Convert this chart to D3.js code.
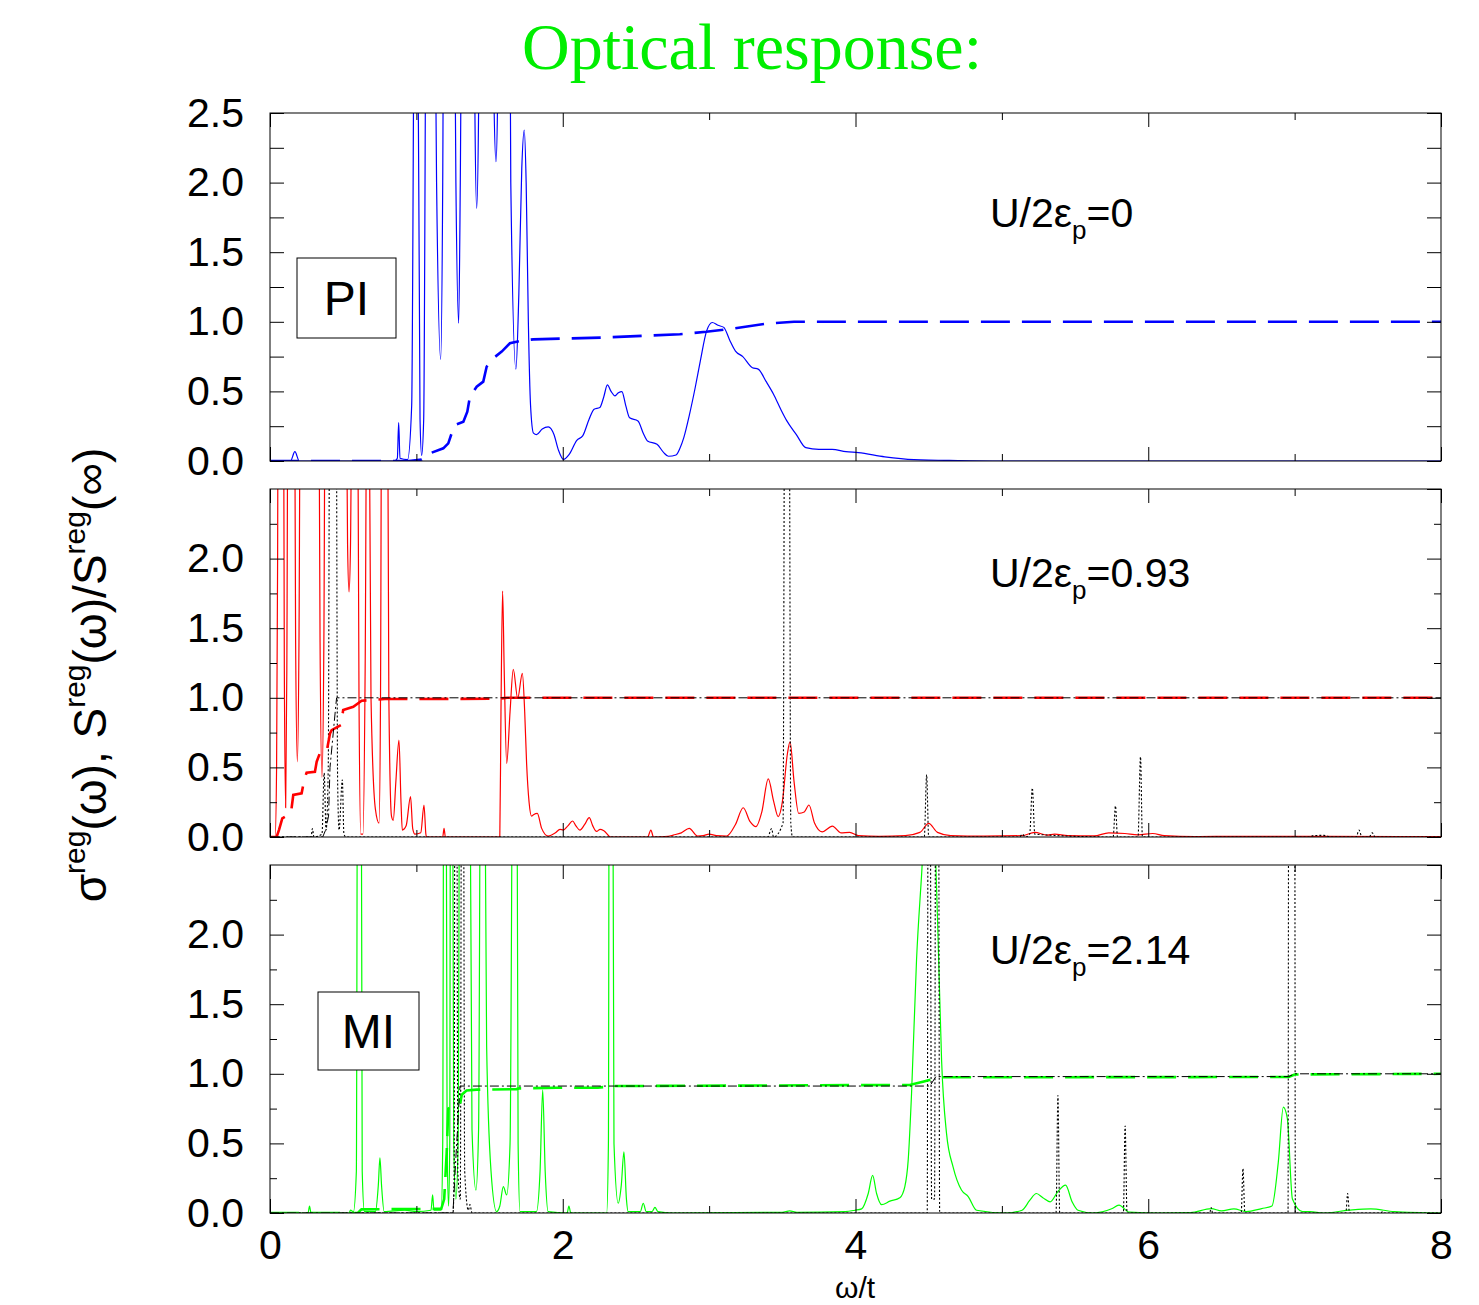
<!DOCTYPE html>
<html>
<head>
<meta charset="utf-8">
<script src="https://cdn.jsdelivr.net/npm/d3@7"></script>
<style>
  body{margin:0;background:#fff}
  text{font-family:"Liberation Sans",Arial,sans-serif}
</style>
</head>
<body>
<svg id="chart" width="1479" height="1305"></svg>
<script>
// ---- data, read off the figure : [omega/t, value] ----
// (values above 2.5 are clipped peaks, estimated)
let piSigma = [[0,0],[0.14,0],[0.17,0.067],[0.2,0],[0.85,0],[0.87,0.02],[0.879,0.275],[0.888,0.02],[0.94,0.01],
  [0.968,0.4],[0.99,4],[1.005,4],[1.025,0.3],[1.036,0.04],[1.05,0.3],[1.07,4],[1.12,4],[1.138,2.0],[1.166,0.73],[1.18,2.0],[1.189,4],
  [1.255,4],[1.27,2.0],[1.289,0.99],[1.30,2.0],[1.314,4],[1.395,4],[1.40,2.5],[1.412,1.815],[1.425,2.5],[1.43,4],
  [1.525,4],[1.53,2.6],[1.544,2.15],[1.555,2.6],[1.56,4],[1.635,4],[1.645,2.0],[1.68,0.66],[1.70,1.2],[1.72,2.1],[1.737,2.378],
  [1.75,2.0],[1.765,1.0],[1.78,0.4],[1.80,0.2],[1.821,0.19],[1.86,0.23],[1.901,0.245],[1.94,0.19],[1.97,0.08],[2.005,0.012],
  [2.044,0.048],[2.096,0.149],[2.136,0.18],[2.18,0.3],[2.214,0.372],[2.253,0.384],[2.28,0.46],[2.305,0.547],[2.33,0.5],
  [2.357,0.468],[2.38,0.49],[2.404,0.499],[2.43,0.4],[2.457,0.31],[2.514,0.288],[2.55,0.2],[2.579,0.144],[2.644,0.12],
  [2.69,0.06],[2.722,0.034],[2.774,0.043],[2.80,0.09],[2.827,0.168],[2.865,0.33],[2.905,0.528],[2.94,0.72],[2.983,0.935],
  [3.022,0.995],[3.06,0.975],[3.1,0.96],[3.14,0.87],[3.18,0.79],[3.23,0.75],[3.296,0.67],[3.335,0.66],[3.39,0.57],[3.44,0.48],
  [3.49,0.37],[3.53,0.29],[3.596,0.19],[3.66,0.096],[3.75,0.084],[3.84,0.084],[3.935,0.067],[4.02,0.06],[4.2,0.03],[4.4,0.01],
  [4.7,0.003],[5.0,0],[8,0]];
let piS = [[0,0],[0.95,0],[1.036,0.01],[1.104,0.06],[1.184,0.091],[1.218,0.127],[1.241,0.199],[1.264,0.259],[1.321,0.282],
  [1.348,0.354],[1.366,0.462],[1.412,0.534],[1.457,0.57],[1.48,0.677],[1.525,0.738],[1.583,0.786],[1.639,0.846],[1.708,0.862],
  [1.799,0.874],[2.279,0.887],[2.80,0.911],[2.98,0.928],[3.166,0.952],[3.40,0.988],[3.58,1.0],[8,1.0]];

let midSigma = [[0,0],[0.035,0],[0.045,0.5],[0.052,2.0],[0.057,4],[0.09,4],[0.098,1.2],[0.107,0.21],[0.115,1.2],[0.125,4],
  [0.165,4],[0.175,1.4],[0.187,0.54],[0.198,1.4],[0.21,4],[0.33,4],[0.342,1.4],[0.355,0.43],[0.368,1.4],[0.38,4],
  [0.515,4],[0.53,2.1],[0.54,1.76],[0.55,2.1],[0.565,4],[0.595,4],[0.608,1.0],[0.62,0.02],[0.635,0.02],[0.65,1.2],[0.665,4],
  [0.672,4],[0.69,1.0],[0.72,0.2],[0.745,0.1],[0.755,1.0],[0.765,4],[0.80,4],[0.812,1.0],[0.83,0.15],[0.842,0.12],[0.86,0.4],
  [0.881,0.697],[0.895,0.25],[0.904,0.05],[0.93,0.08],[0.96,0.29],[0.975,0.06],[0.99,0.02],[1.03,0.03],[1.052,0.23],[1.065,0.02],
  [1.07,0],[1.18,0],[1.189,0.062],[1.198,0],[1.57,0],[1.578,0.9],[1.589,1.767],[1.60,1.2],[1.617,0.529],[1.64,0.9],[1.662,1.205],
  [1.692,0.996],[1.724,1.176],[1.74,0.9],[1.753,0.53],[1.77,0.25],[1.787,0.15],[1.80,0.16],[1.826,0.17],[1.856,0.062],[1.90,0.007],
  [1.95,0.03],[1.981,0.055],[2.004,0.05],[2.035,0.08],[2.067,0.115],[2.09,0.08],[2.117,0.05],[2.15,0.09],[2.181,0.139],[2.205,0.08],
  [2.231,0.04],[2.255,0.055],[2.281,0.045],[2.327,0],[2.58,0],[2.602,0.05],[2.62,0],[2.72,0.005],[2.755,0.014],[2.81,0.03],
  [2.864,0.062],[2.92,0.007],[2.96,0.01],[3.0,0.02],[3.05,0.01],[3.12,0.007],[3.18,0.09],[3.233,0.21],[3.28,0.11],[3.32,0.074],
  [3.36,0.18],[3.404,0.417],[3.44,0.26],[3.472,0.146],[3.50,0.25],[3.535,0.6],[3.553,0.683],[3.58,0.4],[3.612,0.17],[3.65,0.18],
  [3.682,0.23],[3.72,0.1],[3.772,0.037],[3.842,0.078],[3.90,0.03],[3.96,0.033],[4.02,0.01],[4.16,0.005],[4.34,0.01],[4.44,0.033],
  [4.50,0.098],[4.56,0.033],[4.65,0.01],[4.88,0.006],[5.138,0.01],[5.225,0.033],[5.31,0.013],[5.36,0.02],[5.45,0.01],[5.63,0.008],
  [5.73,0.03],[5.84,0.025],[5.93,0.015],[6.03,0.025],[6.11,0.01],[6.32,0.003],[6.6,0.005],[7.2,0.005],[8,0.002]];
let midS = [[0,0],[0.045,0],[0.061,0.05],[0.084,0.134],[0.143,0.17],[0.159,0.302],[0.216,0.314],[0.234,0.41],[0.25,0.462],
  [0.307,0.469],[0.319,0.541],[0.342,0.606],[0.387,0.613],[0.41,0.745],[0.421,0.768],[0.485,0.805],[0.50,0.912],[0.569,0.936],
  [0.626,0.979],[0.786,0.991],[1.55,0.993],[1.62,1.0],[8,1.0]];
let midRef = [[0,0],[0.28,0],[0.29,0.06],[0.30,0],[0.355,0.02],[0.37,0.46],[0.383,0.05],[0.398,0.5],[0.41,4],[0.45,4],[0.462,0.4],
  [0.472,0.05],[0.494,0.41],[0.505,0.02],[0.52,0],[3.40,0],[3.427,0.06],[3.44,0],[3.505,0.1],[3.518,4],[3.545,4],[3.558,0.1],
  [3.57,0],[4.47,0],[4.486,0.448],[4.50,0],[5.12,0],[5.14,0.02],[5.16,0],[5.19,0.02],[5.208,0.352],[5.225,0.02],[5.76,0],
  [5.776,0.223],[5.79,0],[5.93,0],[5.947,0.576],[5.96,0],[7.10,0],[7.13,0.01],[7.2,0.012],[7.25,0],[7.42,0],[7.44,0.05],[7.46,0],
  [7.51,0],[7.53,0.03],[7.55,0],[8,0]];
let midRefS = [[0,0],[0.36,0],[0.38,0.05],[0.40,0.15],[0.41,0.5],[0.45,0.95],[0.455,1.0],[8,1.0]];

let botSigma = [[0,0],[0.26,0],[0.27,0.05],[0.28,0],[0.54,0],[0.55,0.02],[0.57,0.01],[0.59,0.3],[0.599,4],[0.622,4],[0.63,0.3],
  [0.645,0.01],[0.72,0.01],[0.74,0.2],[0.751,0.397],[0.762,0.2],[0.78,0.01],[0.92,0.02],[1.0,0.01],[1.1,0.02],[1.111,0.13],
  [1.12,0.02],[1.17,0.02],[1.18,0.5],[1.188,4],[1.202,4],[1.21,0.5],[1.22,0.05],[1.228,0.5],[1.234,4],[1.246,4],[1.255,0.5],
  [1.27,0.1],[1.285,0.5],[1.298,4],[1.362,4],[1.38,0.6],[1.407,0.165],[1.425,0.6],[1.441,4],[1.462,4],[1.48,1.2],[1.51,0.3],
  [1.548,0.01],[1.57,0.05],[1.594,0.19],[1.617,0.13],[1.64,0.5],[1.662,4],[1.685,4],[1.695,0.5],[1.708,0.01],[1.82,0.01],
  [1.845,0.3],[1.863,0.884],[1.88,0.3],[1.90,0.01],[2.03,0],[2.042,0.05],[2.055,0],[2.30,0],[2.312,0.5],[2.318,4],[2.34,4],
  [2.35,0.5],[2.379,0.07],[2.40,0.2],[2.418,0.44],[2.435,0.1],[2.447,0.01],[2.53,0.01],[2.55,0.07],[2.57,0.01],[2.61,0.01],
  [2.63,0.04],[2.65,0.01],[2.75,0],[3.5,0.005],[3.55,0.015],[3.6,0.005],[3.93,0.01],[3.996,0.02],[4.042,0.03],[4.087,0.14],
  [4.117,0.27],[4.144,0.14],[4.178,0.06],[4.235,0.085],[4.303,0.11],[4.337,0.19],[4.36,0.38],[4.383,0.86],[4.417,1.82],
  [4.451,2.42],[4.48,2.9],[4.52,2.9],[4.549,2.5],[4.565,1.94],[4.588,1.1],[4.622,0.57],[4.667,0.33],[4.724,0.165],[4.77,0.118],
  [4.827,0.02],[5.03,0],[5.138,0.02],[5.19,0.09],[5.236,0.14],[5.28,0.11],[5.33,0.08],[5.38,0.15],[5.435,0.2],[5.48,0.08],
  [5.52,0.02],[5.625,0],[5.75,0.03],[5.80,0.057],[5.87,0.006],[6.08,0],[6.29,0.003],[6.43,0.032],[6.5,0.015],[6.585,0.03],
  [6.67,0.01],[6.775,0.032],[6.845,0.05],[6.888,0.36],[6.923,0.76],[6.95,0.68],[6.985,0.1],[7.054,0.01],[7.107,0.01],[7.195,0],
  [7.37,0.02],[7.52,0.03],[7.68,0.01],[8,0]];
let botS = [[0,0],[0.60,0],[0.625,0.026],[1.17,0.03],[1.19,0.1],[1.207,0.43],[1.218,0.75],[1.26,0.77],[1.298,0.78],[1.31,0.85],
  [1.343,0.88],[1.412,0.886],[1.685,0.89],[1.70,0.895],[1.958,0.90],[2.24,0.90],[2.34,0.912],[4.37,0.92],[4.467,0.945],
  [4.576,0.975],[6.96,0.977],[7.0,0.995],[8,1.0]];
let botRef = [[0,0],[1.25,0],[1.258,0.3],[1.264,4],[1.275,4],[1.283,0.3],[1.30,0.1],[1.31,4],[1.32,4],[1.33,0.3],[1.355,0.02],
  [1.366,0.06],[1.38,0],[4.49,0],[4.497,4],[4.508,4],[4.52,0.1],[4.54,0.1],[4.549,4],[4.566,4],[4.575,0],[5.37,0],[5.383,0.843],
  [5.395,0],[5.83,0],[5.842,0.625],[5.855,0],[6.42,0],[6.43,0.04],[6.44,0],[6.635,0],[6.647,0.32],[6.66,0],[6.955,0],[6.96,4],
  [7.0,4],[7.005,0],[7.35,0],[7.362,0.14],[7.375,0],[7.59,0],[7.6,0.01],[7.61,0],[8,0]];
let botRefS = [[0,0],[1.25,0],[1.27,0.4],[1.298,0.912],[4.508,0.912],[4.549,0.98],[6.96,0.98],[7.0,1.0],[8,1.0]];

let xTicks = [0,2,4,6,8], xMinor = [1,3,5,7];
let yTicks = [0,0.5,1,1.5,2,2.5], yMinor = [0.25,0.75,1.25,1.75,2.25];
let uLabels = ['0','0.93','2.14'];

// ---- layout ----
let left = 270, right = 1441, pH = 348, tops = [113,489,865];
let svg = d3.select('#chart');
let x = d3.scaleLinear().domain([0,8]).range([left,right]);

let panels = [
  {sigma:piSigma, S:piS, color:'#0000ff', top:tops[0], yLab:yTicks, minorLen:14, uy:114, box:{t:'PI',x:297,y:258,w:99,h:80}},
  {sigma:midSigma, S:midS, ref:midRef, refS:midRefS, color:'#ff0000', top:tops[1], yLab:yTicks.slice(0,5), minorLen:7, uy:98},
  {sigma:botSigma, S:botS, ref:botRef, refS:botRefS, color:'#00ff00', top:tops[2], yLab:yTicks.slice(0,5), minorLen:7, uy:99, box:{t:'MI',x:318,y:992,w:101,h:78}}
];

// title
svg.append('text').attr('x',752).attr('y',69).attr('text-anchor','middle')
  .style('font-family','"Liberation Serif","Times New Roman",serif').style('font-size','66px')
  .attr('fill','#00ee00').text('Optical response:');

panels.forEach((p,i)=>{
  let y = d3.scaleLinear().domain([0,2.5]).range([p.top+pH,p.top]);
  let g = svg.append('g');
  g.append('clipPath').attr('id','clip'+i).append('rect')
    .attr('x',left).attr('y',p.top).attr('width',right-left).attr('height',pH);
  let plot = g.append('g').attr('clip-path','url(#clip'+i+')');
  let smooth = d3.line().x(d=>x(d[0])).y(d=>y(d[1])).curve(d3.curveMonotoneX),
      step = d3.line().x(d=>x(d[0])).y(d=>y(d[1]));

  //spectre calculé
  plot.append('path').attr('d',smooth(p.sigma)).attr('fill','none')
    .attr('stroke',p.color).attr('stroke-width',1.2);
  //spectre de référence (pointillés noirs)
  if(p.ref) plot.append('path').attr('d',smooth(p.ref)).attr('fill','none')
    .attr('stroke','#000').attr('stroke-width',1.1).attr('stroke-dasharray','2,2');
  //poids intégré
  plot.append('path').attr('d',step(p.S)).attr('fill','none')
    .attr('stroke',p.color).attr('stroke-width',2.6).attr('stroke-dasharray','29,12');
  if(p.refS) plot.append('path').attr('d',step(p.refS)).attr('fill','none')
    .attr('stroke','#000').attr('stroke-width',1).attr('stroke-dasharray','9,3,2,3');

  // axes, ticks inside on the four sides
  let axes = [
    [d3.axisLeft(y).tickValues(p.yLab).tickFormat(d3.format('.1f')).tickSize(-14).tickPadding(26), left, 0],
    [d3.axisLeft(y).tickValues(yMinor).tickFormat('').tickSize(-p.minorLen), left, 0],
    [d3.axisRight(y).tickValues(yTicks).tickFormat('').tickSize(-14), right, 0],
    [d3.axisRight(y).tickValues(yMinor).tickFormat('').tickSize(-p.minorLen), right, 0],
    [d3.axisTop(x).tickValues(xTicks).tickFormat('').tickSize(-14), 0, p.top],
    [d3.axisTop(x).tickValues(xMinor).tickFormat('').tickSize(-7), 0, p.top],
    [d3.axisBottom(x).tickValues(xTicks).tickFormat(i==2 ? d3.format('d') : '').tickSize(-14).tickPadding(17), 0, p.top+pH],
    [d3.axisBottom(x).tickValues(xMinor).tickFormat('').tickSize(-7), 0, p.top+pH]
  ];
  axes.forEach(a=>{
    g.append('g').attr('transform',`translate(${a[1]},${a[2]})`).call(a[0])
      .call(s=>s.select('.domain').remove())
      .call(s=>s.selectAll('line').attr('stroke','#000').attr('stroke-width',1))
      .call(s=>s.selectAll('text').attr('fill','#000').style('font-size','41px')
        .style('font-family','"Liberation Sans",Arial,sans-serif'));
  });
  g.append('rect').attr('x',left).attr('y',p.top).attr('width',right-left).attr('height',pH)
    .attr('fill','none').attr('stroke','#000').attr('stroke-width',1);

  // U/2eps_p label
  let t = g.append('text').attr('x',990).attr('y',p.top+p.uy).style('font-size','41px').attr('fill','#000');
  t.append('tspan').text('U/2ε');
  t.append('tspan').attr('dy',12).style('font-size','26px').text('p');
  t.append('tspan').attr('dy',-12).text('='+uLabels[i]);

  if(p.box){
    g.append('rect').attr('x',p.box.x).attr('y',p.box.y).attr('width',p.box.w).attr('height',p.box.h)
      .attr('fill','#fff').attr('stroke','#000').attr('stroke-width',1);
    g.append('text').attr('x',p.box.x+p.box.w/2).attr('y',p.box.y+p.box.h/2+17)
      .attr('text-anchor','middle').style('font-size','48px').attr('fill','#000').text(p.box.t);
  }
});

// axis titles
svg.append('text').attr('x',855).attr('y',1298).attr('text-anchor','middle')
  .style('font-size','30px').text('ω/t');
let yl = svg.append('text').attr('transform','translate(106,675) rotate(-90)')
  .attr('text-anchor','middle').style('font-size','46px');
[['σ',0],['reg',1],['(ω), S',0],['reg',1],['(ω)/S',0],['reg',1],['(∞)',0]].forEach((s,k,arr)=>{
  let prev = k>0 ? arr[k-1][1] : 0;
  yl.append('tspan').attr('dy', s[1] && !prev ? -21 : (!s[1] && prev ? 21 : 0))
    .style('font-size', s[1] ? '30px' : '46px').text(s[0]);
});
</script>
</body>
</html>
